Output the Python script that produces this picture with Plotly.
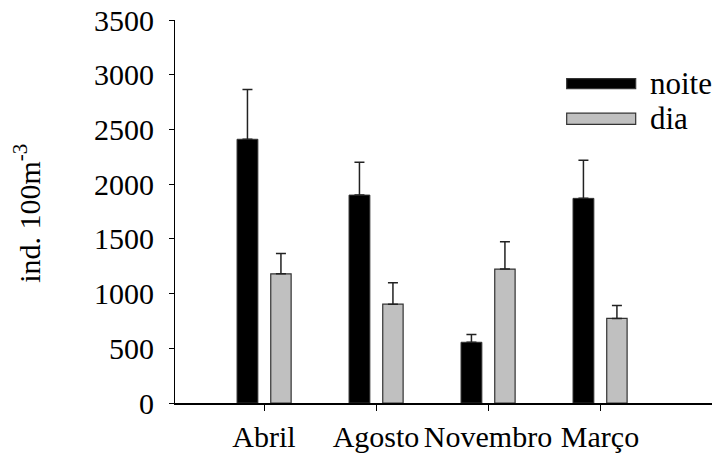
import plotly.graph_objects as go

# Monthly abundance, night vs day sampling
categories = ["Abril", "Agosto", "Novembro", "Março"]
noite = [2410, 1900, 555, 1870]
noite_err = [455, 300, 72, 348]
dia = [1180, 903, 1224, 773]
dia_err = [186, 197, 249, 118]
y_ticks = [0, 500, 1000, 1500, 2000, 2500, 3000, 3500]

xpos = list(range(len(categories)))
FONT = "Liberation Serif"

fig = go.Figure()
fig.add_trace(go.Bar(
    x=xpos, y=noite, name="noite", width=0.186, offset=-0.241,
    marker=dict(color="#000000", line=dict(color="#333333", width=1)),
    error_y=dict(type="data", array=noite_err, symmetric=False,
                 arrayminus=[0] * len(noite_err),
                 color="#222222", thickness=1.5, width=5),
))
# day bars sit on the twin axis that draws the short tick marks
fig.add_trace(go.Bar(
    x=xpos, y=dia, name="dia", width=0.182, offset=0.06, yaxis="y2",
    marker=dict(color="#C0C0C0", line=dict(color="#333333", width=1.2)),
    error_y=dict(type="data", array=dia_err, symmetric=False,
                 arrayminus=[0] * len(dia_err),
                 color="#222222", thickness=1.5, width=5),
))

fig.update_layout(
    width=715, height=461,
    margin=dict(l=175, r=3, t=18, b=58),
    paper_bgcolor="white", plot_bgcolor="white",
    barmode="overlay", showlegend=False,
    font=dict(family=FONT, size=30, color="black"),
    xaxis=dict(
        range=[-0.795, 4.0], tickvals=xpos, ticktext=categories,
        showline=True, linecolor="black", linewidth=1.5,
        ticks="outside", ticklen=6, tickcolor="black", tickwidth=1,
        showgrid=False, zeroline=False,
        tickfont=dict(family=FONT, size=30, color="black"),
    ),
    yaxis=dict(
        range=[0, 3500], tickvals=y_ticks,
        showline=True, linecolor="black", linewidth=1,
        ticks="outside", ticklen=14, tickcolor="rgba(0,0,0,0)", tickwidth=1,
        showgrid=False, zeroline=False,
        tickfont=dict(family=FONT, size=30, color="black"),
    ),
    yaxis2=dict(
        overlaying="y", anchor="x", side="left", range=[0, 3500],
        tickvals=y_ticks, showticklabels=False, ticks="outside",
        ticklen=5, tickcolor="black", tickwidth=1,
        showline=False, showgrid=False, zeroline=False,
    ),
)

# Axis title
fig.add_annotation(
    text="ind. 100m<sup>-3</sup>", xref="paper", yref="paper",
    x=-0.2756, y=0.494, xanchor="center", yanchor="middle",
    textangle=-90, showarrow=False,
    font=dict(family=FONT, size=30, color="black"),
)

# Legend: long swatches with labels
legend_items = [("noite", "#000000", 0.8208, 0.8468, 0.8345),
                ("dia", "#C0C0C0", 0.7273, 0.7566, 0.7436)]
for label, color, y0, y1, yc in legend_items:
    fig.add_shape(type="rect", xref="paper", yref="paper",
                  x0=0.7294, x1=0.8579, y0=y0, y1=y1,
                  fillcolor=color, line=dict(color="#333333", width=1.2))
    fig.add_annotation(
        text=f"<span style='font-family:{FONT}, serif'>{label}</span>",
        xref="paper", yref="paper",
        x=0.8808, y=yc, xanchor="left", yanchor="middle",
        showarrow=False,
        font=dict(family=FONT + ", serif", size=31, color="black"))

fig.write_html("out.html")
